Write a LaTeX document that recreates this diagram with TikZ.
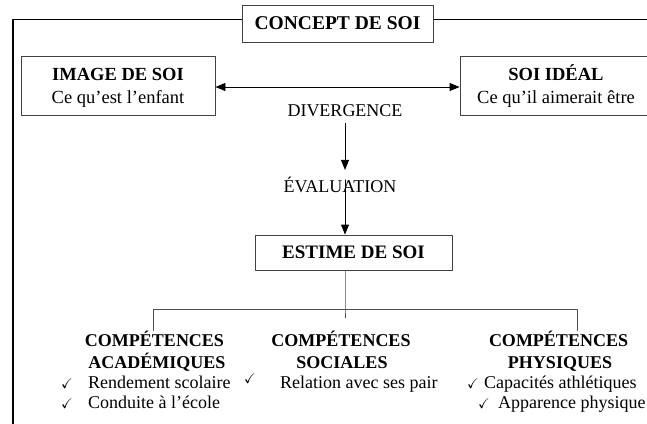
\documentclass[tikz,border=0pt]{standalone}
\usepackage{fontspec}
\setmainfont{Liberation Serif}
\usepackage{amssymb}
\usetikzlibrary{arrows.meta}
\newcommand{\coche}[1]{\makebox[#1][l]{\fontsize{14}{14}\selectfont$\checkmark$}}

\begin{document}
\begin{tikzpicture}[line cap=round,line join=round,>={Triangle[length=10pt,width=8pt]},x=1pt,y=-1pt,
    boite/.style={draw=black!75,line width=0.9pt,fill=white,align=center,inner sep=0pt},
    trait/.style={draw=black!70,line width=0.9pt},
    fleche/.style={line width=0.9pt,->},
    gras/.style={font=\fontsize{18}{22}\selectfont\bfseries,inner sep=0pt},
    texte/.style={font=\fontsize{18}{22}\selectfont,inner sep=0pt}]
    \useasboundingbox (0,0) rectangle (647,423);
    \draw [line width=1.8pt,line cap=butt] (13,440) -- (13,19.5) -- (660,19.5);
    \node[boite,minimum width=191pt,minimum height=37pt,font=\fontsize{19.5}{22}\selectfont\bfseries] (concept) at (337.5,23.5) {CONCEPT DE SOI};
    \node[boite,minimum width=194pt,minimum height=59pt,font=\fontsize{18.5}{23}\selectfont] (image) at (118,85.5) {\rule{0pt}{17pt}\textbf{IMAGE DE SOI}\\Ce qu'est l'enfant};
    \node[boite,minimum width=192pt,minimum height=59pt,font=\fontsize{18.5}{23}\selectfont] (ideal) at (556,85.5) {\rule{0pt}{17pt}\textbf{SOI IDÉAL}\\Ce qu'il aimerait être};
    \coordinate (niveau) at (0,87);
    \draw [fleche,<->] (image.east |- niveau) -- (ideal.west |- niveau);
    \node[texte] (divergence) at (345,111) {DIVERGENCE};
    \node[texte] (evaluation) at (340,185) {ÉVALUATION};
    \node[boite,minimum width=197pt,minimum height=35pt,font=\fontsize{19}{22}\selectfont\bfseries] (estime) at (353.5,252.5) {ESTIME DE SOI};
    \coordinate (axe) at (345,0);
    \draw [fleche,shorten <=6pt,shorten >=7pt] (divergence.south -| axe) -- (evaluation.north -| axe);
    \draw [fleche,shorten <=3pt] (evaluation.north -| axe) -- (estime.north -| axe);
    \node[gras,anchor=base] (acadA) at (154.5,346) {COMPÉTENCES};
    \node[gras,anchor=base] (acadB) at (157,368) {ACADÉMIQUES};
    \node[gras,anchor=base] (socA) at (341,346) {COMPÉTENCES};
    \node[gras,anchor=base] (socB) at (342,368) {SOCIALES};
    \node[gras,anchor=base] (physA) at (558.5,346) {COMPÉTENCES};
    \node[gras,anchor=base] (physB) at (560,368) {PHYSIQUES};
    \coordinate (embr) at (345,309);
    \coordinate (gauche) at (153,309);
    \coordinate (droite) at (577,309);
    \draw [trait] (estime.south -| axe) -- (embr) -- ++(0,9);
    \draw [trait] (gauche |- acadA.north) -- (gauche) -- (droite) -- (droite |- physA.north);
    \node[texte,anchor=base west] (rendement) at (61,388) {\coche{27pt}Rendement scolaire};
    \node[texte,anchor=base west] (conduite) at (61,408) {\coche{27pt}Conduite à l'école};
    \begin{scope}
        \clip (230,365) rectangle (437,400);
        \node[texte,anchor=base west] (relation) at (244,388) {\raisebox{5pt}{\coche{36pt}}Relation avec ses pairs};
    \end{scope}
    \node[texte,anchor=base west] (capacites) at (467,388) {\coche{17pt}Capacités athlétiques};
    \node[texte,anchor=base west] (apparence) at (478,408) {\coche{20pt}Apparence physique};
\end{tikzpicture}
\end{document}
